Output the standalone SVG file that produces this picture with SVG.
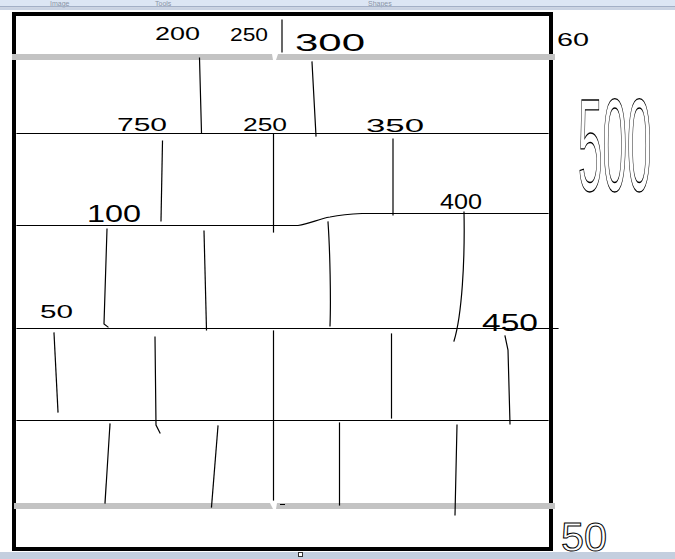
<svg xmlns="http://www.w3.org/2000/svg" width="675" height="559" viewBox="0 0 675 559">
<style>
.ln{fill:none;stroke:#000;stroke-width:1.2;stroke-linecap:square}
.hw{font-family:"Liberation Sans",Arial,sans-serif;font-size:19px;fill:#000}
.tb{font-family:"Liberation Sans",Arial,sans-serif;font-size:7px;fill:#8a94a6}
.gray{fill:#c3c3c3}
</style>
<rect width="675" height="559" fill="#fff"/>
<!-- window chrome -->
<rect x="0" y="0" width="675" height="6" fill="#dce6f4"/>
<text class="tb" x="50" y="5.5">Image</text>
<text class="tb" x="155" y="5.5">Tools</text>
<text class="tb" x="368" y="5.5">Shapes</text>
<rect x="0" y="6" width="675" height="1.5" fill="#a3b0c6"/>
<rect x="0" y="7.5" width="675" height="2.5" fill="#c9d3e3"/>
<rect x="0" y="552" width="675" height="7" fill="#c4cfdf"/>
<rect x="298.5" y="552.5" width="4" height="4" fill="#fff" stroke="#333" stroke-width="1"/>
<!-- frame -->
<rect x="14" y="14" width="537" height="535" fill="none" stroke="#000" stroke-width="4"/>
<!-- gray bands -->
<rect class="gray" x="12" y="54" width="543" height="6"/>
<rect class="gray" x="14" y="503" width="541" height="6"/>
<polygon points="272,54 278,54 276,60 273,60" fill="#fff"/>
<polygon points="270,503 277,503 276,509 273,509" fill="#fff"/>
<line x1="280" y1="504.5" x2="285" y2="504.5" stroke="#000" stroke-width="1"/>
<g id="connectors">
<line class="ln" x1="17" y1="133.5" x2="548" y2="133.5"/>
<path class="ln" d="M17,225.5 L298,225.5 C310,224 318,219 330,217 C340,215 350,214 362,213.5 L548,213.5"/>
<line class="ln" x1="17" y1="328.5" x2="558" y2="328.5"/>
<line class="ln" x1="17" y1="420.5" x2="548" y2="420.5"/>
<line class="ln" x1="282" y1="20" x2="282" y2="52"/>
<line class="ln" x1="199.5" y1="58" x2="201.5" y2="133"/>
<line class="ln" x1="312" y1="62" x2="316" y2="136"/>
<line class="ln" x1="162.5" y1="141" x2="161" y2="221"/>
<line class="ln" x1="273.5" y1="134" x2="273.5" y2="232"/>
<line class="ln" x1="393" y1="139" x2="393" y2="215"/>
<path class="ln" d="M107,229 L104,324 L108,327"/>
<line class="ln" x1="204" y1="231" x2="206.5" y2="330"/>
<path class="ln" d="M328,222 C330,250 331,300 330,326"/>
<path class="ln" d="M464,212 C465,260 462,315 454,341"/>
<line class="ln" x1="54" y1="333" x2="58" y2="412"/>
<path class="ln" d="M155,337 L156,425 L160,433"/>
<line class="ln" x1="273.5" y1="331" x2="273.5" y2="420"/>
<line class="ln" x1="391.5" y1="334" x2="391.5" y2="418"/>
<path class="ln" d="M505,336 L508,350 L510,424"/>
<line class="ln" x1="110" y1="424" x2="105" y2="503"/>
<line class="ln" x1="218" y1="426" x2="211.5" y2="507"/>
<line class="ln" x1="273.5" y1="421" x2="273.5" y2="500"/>
<line class="ln" x1="339.5" y1="423" x2="339.5" y2="505"/>
<line class="ln" x1="457" y1="425" x2="455" y2="515"/>
</g>
<g id="labels">
<text class="hw" x="155" y="40" textLength="45" lengthAdjust="spacingAndGlyphs">200</text>
<text class="hw" x="230" y="41" textLength="38" lengthAdjust="spacingAndGlyphs">250</text>
<text class="hw" x="295" y="51" style="font-size:24px" textLength="70" lengthAdjust="spacingAndGlyphs">300</text>
<text class="hw" x="557" y="46" textLength="32" lengthAdjust="spacingAndGlyphs">60</text>
<text class="hw" transform="translate(578,191) scale(1.1,3.3)" style="font-size:40px;fill:none;stroke:#000;stroke-width:1" vector-effect="non-scaling-stroke">500</text>
<text class="hw" x="117" y="131" textLength="50" lengthAdjust="spacingAndGlyphs">750</text>
<text class="hw" x="243" y="131" textLength="44" lengthAdjust="spacingAndGlyphs">250</text>
<text class="hw" x="366" y="132" textLength="58" lengthAdjust="spacingAndGlyphs">350</text>
<text class="hw" x="87" y="222" style="font-size:24px" textLength="54" lengthAdjust="spacingAndGlyphs">100</text>
<text class="hw" x="440" y="209" style="font-size:22px" textLength="42" lengthAdjust="spacingAndGlyphs">400</text>
<text class="hw" x="40" y="318" textLength="33" lengthAdjust="spacingAndGlyphs">50</text>
<text class="hw" x="482" y="331" style="font-size:24px" textLength="56" lengthAdjust="spacingAndGlyphs">450</text>
<text class="hw" x="561" y="551" style="font-size:40px;fill:none;stroke:#000;stroke-width:1" textLength="46" lengthAdjust="spacingAndGlyphs">50</text>
</g>
</svg>
